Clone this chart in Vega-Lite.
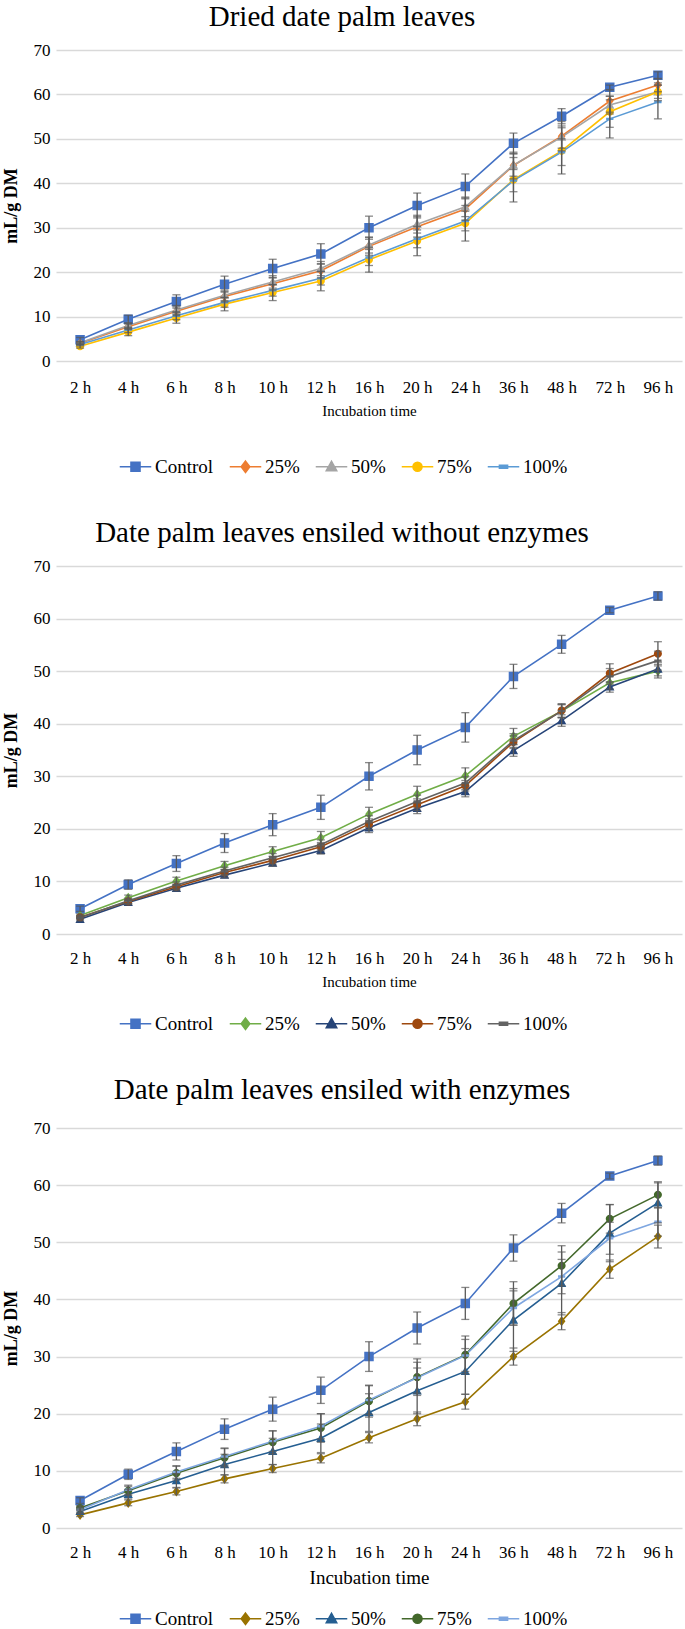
{
  "$schema": "https://vega.github.io/schema/vega-lite/v6.json",
  "padding": {"left": 2, "top": 3, "right": 1, "bottom": 0},
  "background": "white",
  "spacing": 42,
  "datasets": {
    "p1": [
      {"time":"2 h","series":"Control","value":4.8,"err":0.5},{"time":"4 h","series":"Control","value":9.4,"err":0.9},{"time":"6 h","series":"Control","value":13.4,"err":1.5},{"time":"8 h","series":"Control","value":17.3,"err":1.8},{"time":"10 h","series":"Control","value":20.8,"err":2.1},{"time":"12 h","series":"Control","value":24.1,"err":2.3},{"time":"16 h","series":"Control","value":30.0,"err":2.6},{"time":"20 h","series":"Control","value":35.0,"err":2.8},{"time":"24 h","series":"Control","value":39.3,"err":2.8},{"time":"36 h","series":"Control","value":49.0,"err":2.3},{"time":"48 h","series":"Control","value":55.1,"err":1.7},{"time":"72 h","series":"Control","value":61.6,"err":0.5},{"time":"96 h","series":"Control","value":64.3,"err":0.8},
      {"time":"2 h","series":"25%","value":4.0,"err":0.3},{"time":"4 h","series":"25%","value":7.7,"err":0.6},{"time":"6 h","series":"25%","value":11.2,"err":1.0},{"time":"8 h","series":"25%","value":14.5,"err":1.2},{"time":"10 h","series":"25%","value":17.4,"err":1.4},{"time":"12 h","series":"25%","value":20.3,"err":1.6},{"time":"16 h","series":"25%","value":25.8,"err":2.0},{"time":"20 h","series":"25%","value":30.2,"err":2.3},{"time":"24 h","series":"25%","value":34.2,"err":2.5},{"time":"36 h","series":"25%","value":44.0,"err":3.0},{"time":"48 h","series":"25%","value":50.6,"err":3.3},{"time":"72 h","series":"25%","value":58.5,"err":2.5},{"time":"96 h","series":"25%","value":62.1,"err":1.5},
      {"time":"2 h","series":"50%","value":4.1,"err":0.3},{"time":"4 h","series":"50%","value":8.0,"err":0.6},{"time":"6 h","series":"50%","value":11.5,"err":1.0},{"time":"8 h","series":"50%","value":14.8,"err":1.2},{"time":"10 h","series":"50%","value":17.8,"err":1.4},{"time":"12 h","series":"50%","value":20.8,"err":1.6},{"time":"16 h","series":"50%","value":26.1,"err":1.8},{"time":"20 h","series":"50%","value":30.8,"err":2.0},{"time":"24 h","series":"50%","value":34.7,"err":2.2},{"time":"36 h","series":"50%","value":44.1,"err":2.5},{"time":"48 h","series":"50%","value":50.4,"err":2.5},{"time":"72 h","series":"50%","value":57.6,"err":2.0},{"time":"96 h","series":"50%","value":60.6,"err":1.5},
      {"time":"2 h","series":"75%","value":3.3,"err":0.4},{"time":"4 h","series":"75%","value":6.5,"err":0.8},{"time":"6 h","series":"75%","value":9.7,"err":1.2},{"time":"8 h","series":"75%","value":12.8,"err":1.5},{"time":"10 h","series":"75%","value":15.4,"err":1.8},{"time":"12 h","series":"75%","value":18.0,"err":2.2},{"time":"16 h","series":"75%","value":22.8,"err":2.8},{"time":"20 h","series":"75%","value":27.0,"err":3.3},{"time":"24 h","series":"75%","value":31.0,"err":4.0},{"time":"36 h","series":"75%","value":40.8,"err":5.0},{"time":"48 h","series":"75%","value":47.3,"err":5.2},{"time":"72 h","series":"75%","value":56.1,"err":3.5},{"time":"96 h","series":"75%","value":60.6,"err":2.0},
      {"time":"2 h","series":"100%","value":3.7,"err":0.3},{"time":"4 h","series":"100%","value":7.0,"err":0.6},{"time":"6 h","series":"100%","value":10.2,"err":0.9},{"time":"8 h","series":"100%","value":13.2,"err":1.1},{"time":"10 h","series":"100%","value":15.9,"err":1.3},{"time":"12 h","series":"100%","value":18.6,"err":1.5},{"time":"16 h","series":"100%","value":23.3,"err":1.8},{"time":"20 h","series":"100%","value":27.5,"err":2.0},{"time":"24 h","series":"100%","value":31.5,"err":2.2},{"time":"36 h","series":"100%","value":40.6,"err":2.5},{"time":"48 h","series":"100%","value":47.0,"err":3.0},{"time":"72 h","series":"100%","value":54.5,"err":4.3},{"time":"96 h","series":"100%","value":58.3,"err":3.8}
    ],
    "p2": [
      {"time":"2 h","series":"Control","value":4.8,"err":0.5},{"time":"4 h","series":"Control","value":9.4,"err":0.9},{"time":"6 h","series":"Control","value":13.4,"err":1.5},{"time":"8 h","series":"Control","value":17.3,"err":1.8},{"time":"10 h","series":"Control","value":20.8,"err":2.1},{"time":"12 h","series":"Control","value":24.1,"err":2.3},{"time":"16 h","series":"Control","value":30.0,"err":2.6},{"time":"20 h","series":"Control","value":35.0,"err":2.8},{"time":"24 h","series":"Control","value":39.3,"err":2.8},{"time":"36 h","series":"Control","value":49.0,"err":2.3},{"time":"48 h","series":"Control","value":55.1,"err":1.7},{"time":"72 h","series":"Control","value":61.6,"err":0.5},{"time":"96 h","series":"Control","value":64.3,"err":0.8},
      {"time":"2 h","series":"25%","value":3.5,"err":0.3},{"time":"4 h","series":"25%","value":6.9,"err":0.5},{"time":"6 h","series":"25%","value":10.1,"err":0.7},{"time":"8 h","series":"25%","value":13.0,"err":0.8},{"time":"10 h","series":"25%","value":15.7,"err":0.9},{"time":"12 h","series":"25%","value":18.3,"err":1.2},{"time":"16 h","series":"25%","value":22.8,"err":1.3},{"time":"20 h","series":"25%","value":26.6,"err":1.5},{"time":"24 h","series":"25%","value":30.1,"err":1.5},{"time":"36 h","series":"25%","value":37.6,"err":1.5},{"time":"48 h","series":"25%","value":42.4,"err":1.2},{"time":"72 h","series":"25%","value":47.8,"err":1.2},{"time":"96 h","series":"25%","value":50.0,"err":1.3},
      {"time":"2 h","series":"50%","value":2.8,"err":0.3},{"time":"4 h","series":"50%","value":6.0,"err":0.4},{"time":"6 h","series":"50%","value":8.7,"err":0.5},{"time":"8 h","series":"50%","value":11.2,"err":0.5},{"time":"10 h","series":"50%","value":13.5,"err":0.6},{"time":"12 h","series":"50%","value":15.9,"err":0.7},{"time":"16 h","series":"50%","value":20.2,"err":0.9},{"time":"20 h","series":"50%","value":23.9,"err":1.0},{"time":"24 h","series":"50%","value":27.1,"err":1.0},{"time":"36 h","series":"50%","value":34.9,"err":1.1},{"time":"48 h","series":"50%","value":40.6,"err":1.1},{"time":"72 h","series":"50%","value":47.0,"err":1.0},{"time":"96 h","series":"50%","value":50.4,"err":1.3},
      {"time":"2 h","series":"75%","value":3.2,"err":0.3},{"time":"4 h","series":"75%","value":6.2,"err":0.4},{"time":"6 h","series":"75%","value":9.0,"err":0.5},{"time":"8 h","series":"75%","value":11.7,"err":0.6},{"time":"10 h","series":"75%","value":14.0,"err":0.7},{"time":"12 h","series":"75%","value":16.6,"err":0.8},{"time":"16 h","series":"75%","value":20.9,"err":1.0},{"time":"20 h","series":"75%","value":24.6,"err":1.1},{"time":"24 h","series":"75%","value":28.2,"err":1.0},{"time":"36 h","series":"75%","value":36.5,"err":1.2},{"time":"48 h","series":"75%","value":42.5,"err":1.3},{"time":"72 h","series":"75%","value":49.6,"err":1.8},{"time":"96 h","series":"75%","value":53.3,"err":2.3},
      {"time":"2 h","series":"100%","value":3.1,"err":0.3},{"time":"4 h","series":"100%","value":6.3,"err":0.5},{"time":"6 h","series":"100%","value":9.3,"err":0.6},{"time":"8 h","series":"100%","value":12.0,"err":0.7},{"time":"10 h","series":"100%","value":14.5,"err":0.8},{"time":"12 h","series":"100%","value":17.0,"err":0.9},{"time":"16 h","series":"100%","value":21.4,"err":1.1},{"time":"20 h","series":"100%","value":25.2,"err":1.2},{"time":"24 h","series":"100%","value":28.7,"err":1.2},{"time":"36 h","series":"100%","value":36.8,"err":1.3},{"time":"48 h","series":"100%","value":42.4,"err":1.3},{"time":"72 h","series":"100%","value":49.0,"err":1.5},{"time":"96 h","series":"100%","value":52.0,"err":1.8}
    ],
    "p3": [
      {"time":"2 h","series":"Control","value":4.8,"err":0.5},{"time":"4 h","series":"Control","value":9.4,"err":0.9},{"time":"6 h","series":"Control","value":13.4,"err":1.5},{"time":"8 h","series":"Control","value":17.3,"err":1.8},{"time":"10 h","series":"Control","value":20.8,"err":2.1},{"time":"12 h","series":"Control","value":24.1,"err":2.3},{"time":"16 h","series":"Control","value":30.0,"err":2.6},{"time":"20 h","series":"Control","value":35.0,"err":2.8},{"time":"24 h","series":"Control","value":39.3,"err":2.8},{"time":"36 h","series":"Control","value":49.0,"err":2.3},{"time":"48 h","series":"Control","value":55.1,"err":1.7},{"time":"72 h","series":"Control","value":61.6,"err":0.5},{"time":"96 h","series":"Control","value":64.3,"err":0.8},
      {"time":"2 h","series":"25%","value":2.3,"err":0.3},{"time":"4 h","series":"25%","value":4.4,"err":0.5},{"time":"6 h","series":"25%","value":6.4,"err":0.6},{"time":"8 h","series":"25%","value":8.6,"err":0.7},{"time":"10 h","series":"25%","value":10.4,"err":0.7},{"time":"12 h","series":"25%","value":12.2,"err":0.8},{"time":"16 h","series":"25%","value":15.8,"err":0.9},{"time":"20 h","series":"25%","value":19.1,"err":1.2},{"time":"24 h","series":"25%","value":22.1,"err":1.3},{"time":"36 h","series":"25%","value":30.0,"err":1.5},{"time":"48 h","series":"25%","value":36.2,"err":1.5},{"time":"72 h","series":"25%","value":45.3,"err":1.6},{"time":"96 h","series":"25%","value":51.0,"err":2.0},
      {"time":"2 h","series":"50%","value":2.9,"err":0.4},{"time":"4 h","series":"50%","value":5.9,"err":0.8},{"time":"6 h","series":"50%","value":8.3,"err":1.2},{"time":"8 h","series":"50%","value":11.1,"err":1.8},{"time":"10 h","series":"50%","value":13.4,"err":2.3},{"time":"12 h","series":"50%","value":15.7,"err":2.5},{"time":"16 h","series":"50%","value":20.2,"err":3.3},{"time":"20 h","series":"50%","value":24.0,"err":4.0},{"time":"24 h","series":"50%","value":27.4,"err":4.0},{"time":"36 h","series":"50%","value":36.4,"err":5.5},{"time":"48 h","series":"50%","value":42.8,"err":5.5},{"time":"72 h","series":"50%","value":51.6,"err":5.0},{"time":"96 h","series":"50%","value":56.9,"err":3.5},
      {"time":"2 h","series":"75%","value":3.5,"err":0.4},{"time":"4 h","series":"75%","value":6.5,"err":0.8},{"time":"6 h","series":"75%","value":9.6,"err":1.2},{"time":"8 h","series":"75%","value":12.3,"err":1.6},{"time":"10 h","series":"75%","value":15.0,"err":2.0},{"time":"12 h","series":"75%","value":17.5,"err":2.5},{"time":"16 h","series":"75%","value":22.2,"err":2.8},{"time":"20 h","series":"75%","value":26.4,"err":3.2},{"time":"24 h","series":"75%","value":30.3,"err":3.3},{"time":"36 h","series":"75%","value":39.3,"err":3.8},{"time":"48 h","series":"75%","value":45.9,"err":3.5},{"time":"72 h","series":"75%","value":54.1,"err":2.5},{"time":"96 h","series":"75%","value":58.3,"err":2.3},
      {"time":"2 h","series":"100%","value":3.2,"err":0.4},{"time":"4 h","series":"100%","value":6.7,"err":0.8},{"time":"6 h","series":"100%","value":9.8,"err":1.1},{"time":"8 h","series":"100%","value":12.5,"err":1.5},{"time":"10 h","series":"100%","value":15.2,"err":1.8},{"time":"12 h","series":"100%","value":17.8,"err":2.2},{"time":"16 h","series":"100%","value":22.4,"err":2.5},{"time":"20 h","series":"100%","value":26.3,"err":2.7},{"time":"24 h","series":"100%","value":30.2,"err":2.8},{"time":"36 h","series":"100%","value":38.5,"err":3.0},{"time":"48 h","series":"100%","value":44.0,"err":3.0},{"time":"72 h","series":"100%","value":50.7,"err":2.8},{"time":"96 h","series":"100%","value":53.6,"err":2.5}
    ]
  },
  "resolve": {
    "scale": {"color": "independent", "shape": "independent", "size": "independent", "x": "independent", "y": "independent"},
    "legend": {"color": "independent", "shape": "independent"},
    "axis": {"x": "independent", "y": "independent"}
  },
  "vconcat": [
    {
      "width": 626, "height": 311,
      "data": {"name": "p1"},
      "title": {"text": "Dried date palm leaves", "offset": 9},
      "encoding": {
        "x": {"field": "time", "type": "ordinal", "sort": null, "scale": {"type": "point", "padding": 0.5, "domain": ["2 h","4 h","6 h","8 h","10 h","12 h","16 h","20 h","24 h","36 h","48 h","72 h","96 h"]}, "axis": {"title": "Incubation time", "titleFontSize": 15, "labelPadding": 18}},
        "y": {"field": "value", "type": "quantitative", "scale": {"domain": [0, 70]}, "axis": {"title": "mL/g DM", "titleFontSize": 18, "values": [0,10,20,30,40,50,60,70]}}
      },
      "layer": [
        {
          "mark": {"type": "line", "strokeWidth": 1.6},
          "encoding": {
            "color": {"field": "series", "type": "nominal", "scale": {"domain": ["Control","25%","50%","75%","100%"], "range": ["#4472C4","#ED7D31","#A5A5A5","#FFC000","#5B9BD5"]}, "legend": {"orient": "none", "legendX": 59, "legendY": 407}}
          }
        },
        {
          "mark": {"type": "point", "filled": true, "opacity": 1},
          "encoding": {
            "color": {"field": "series", "type": "nominal", "scale": {"domain": ["Control","25%","50%","75%","100%"], "range": ["#4472C4","#ED7D31","#A5A5A5","#FFC000","#5B9BD5"]}, "legend": null},
            "shape": {"field": "series", "type": "nominal", "scale": {"domain": ["Control","25%","50%","75%","100%"], "range": ["M-3.5,0H3.5M-1,-1H1V1H-1Z","M-3.5,0H3.5M0,-1.25L0.95,0L0,1.25L-0.95,0Z","M-3.5,0H3.5M0,-1.2L1.15,0.9H-1.15Z","M-3.5,0H3.5M-1,0A1,1 0 1,0 1,0A1,1 0 1,0 -1,0Z","M-3.5,0H3.5M-0.9,-0.3H0.9V0.3H-0.9Z"]}, "legend": null},
            "size": {"condition": {"test": "datum.series === 'Control'", "value": 90}, "value": 65}
          }
        },
        {
          "mark": {"type": "errorbar", "ticks": true, "size": 8, "thickness": 1.3, "color": "#595959"},
          "encoding": {"yError": {"field": "err"}}
        }
      ]
    },
    {
      "width": 626, "height": 368,
      "data": {"name": "p2"},
      "title": {"text": "Date palm leaves ensiled without enzymes", "offset": 9},
      "encoding": {
        "x": {"field": "time", "type": "ordinal", "sort": null, "scale": {"type": "point", "padding": 0.5, "domain": ["2 h","4 h","6 h","8 h","10 h","12 h","16 h","20 h","24 h","36 h","48 h","72 h","96 h"]}, "axis": {"title": "Incubation time", "titleFontSize": 15}},
        "y": {"field": "value", "type": "quantitative", "scale": {"domain": [0, 70]}, "axis": {"title": "mL/g DM", "titleFontSize": 18, "values": [0,10,20,30,40,50,60,70]}}
      },
      "layer": [
        {
          "mark": {"type": "line", "strokeWidth": 1.6},
          "encoding": {
            "color": {"field": "series", "type": "nominal", "scale": {"domain": ["Control","25%","50%","75%","100%"], "range": ["#4472C4","#70AD47","#264478","#9E480E","#636363"]}, "legend": {"orient": "none", "legendX": 59, "legendY": 448}}
          }
        },
        {
          "mark": {"type": "point", "filled": true, "opacity": 1},
          "encoding": {
            "color": {"field": "series", "type": "nominal", "scale": {"domain": ["Control","25%","50%","75%","100%"], "range": ["#4472C4","#70AD47","#264478","#9E480E","#636363"]}, "legend": null},
            "shape": {"field": "series", "type": "nominal", "scale": {"domain": ["Control","25%","50%","75%","100%"], "range": ["M-3.5,0H3.5M-1,-1H1V1H-1Z","M-3.5,0H3.5M0,-1.25L0.95,0L0,1.25L-0.95,0Z","M-3.5,0H3.5M0,-1.2L1.15,0.9H-1.15Z","M-3.5,0H3.5M-1,0A1,1 0 1,0 1,0A1,1 0 1,0 -1,0Z","M-3.5,0H3.5M-0.9,-0.3H0.9V0.3H-0.9Z"]}, "legend": null},
            "size": {"condition": {"test": "datum.series === 'Control'", "value": 90}, "value": 65}
          }
        },
        {
          "mark": {"type": "errorbar", "ticks": true, "size": 8, "thickness": 1.3, "color": "#595959"},
          "encoding": {"yError": {"field": "err"}}
        }
      ]
    },
    {
      "width": 626, "height": 400,
      "data": {"name": "p3"},
      "title": {"text": "Date palm leaves ensiled with enzymes", "offset": 14},
      "encoding": {
        "x": {"field": "time", "type": "ordinal", "sort": null, "scale": {"type": "point", "padding": 0.5, "domain": ["2 h","4 h","6 h","8 h","10 h","12 h","16 h","20 h","24 h","36 h","48 h","72 h","96 h"]}, "axis": {"title": "Incubation time", "titleFontSize": 19}},
        "y": {"field": "value", "type": "quantitative", "scale": {"domain": [0, 70]}, "axis": {"title": "mL/g DM", "titleFontSize": 18, "values": [0,10,20,30,40,50,60,70]}}
      },
      "layer": [
        {
          "mark": {"type": "line", "strokeWidth": 1.6},
          "encoding": {
            "color": {"field": "series", "type": "nominal", "scale": {"domain": ["Control","25%","50%","75%","100%"], "range": ["#4472C4","#997300","#255E91","#43682B","#7EA6E0"]}, "legend": {"orient": "none", "legendX": 59, "legendY": 481}}
          }
        },
        {
          "mark": {"type": "point", "filled": true, "opacity": 1},
          "encoding": {
            "color": {"field": "series", "type": "nominal", "scale": {"domain": ["Control","25%","50%","75%","100%"], "range": ["#4472C4","#997300","#255E91","#43682B","#7EA6E0"]}, "legend": null},
            "shape": {"field": "series", "type": "nominal", "scale": {"domain": ["Control","25%","50%","75%","100%"], "range": ["M-3.5,0H3.5M-1,-1H1V1H-1Z","M-3.5,0H3.5M0,-1.25L0.95,0L0,1.25L-0.95,0Z","M-3.5,0H3.5M0,-1.2L1.15,0.9H-1.15Z","M-3.5,0H3.5M-1,0A1,1 0 1,0 1,0A1,1 0 1,0 -1,0Z","M-3.5,0H3.5M-0.9,-0.3H0.9V0.3H-0.9Z"]}, "legend": null},
            "size": {"condition": {"test": "datum.series === 'Control'", "value": 90}, "value": 65}
          }
        },
        {
          "mark": {"type": "errorbar", "ticks": true, "size": 8, "thickness": 1.3, "color": "#595959"},
          "encoding": {"yError": {"field": "err"}}
        }
      ]
    }
  ],
  "config": {
    "view": {"stroke": null},
    "font": "Liberation Serif",
    "title": {"font": "Liberation Serif", "fontSize": 29, "fontWeight": "normal", "color": "#000000", "anchor": "middle", "frame": "bounds"},
    "axis": {"labelFont": "Liberation Serif", "labelColor": "#000000", "labelFontSize": 17, "titleFont": "Liberation Serif", "titleColor": "#000000", "titleFontWeight": "normal", "domain": false, "ticks": false},
    "axisX": {"grid": false, "labelAngle": 0, "labelPadding": 16, "titlePadding": 8},
    "axisY": {"grid": true, "gridColor": "#d9d9d9", "gridWidth": 1.3, "labelPadding": 6, "titleFontWeight": "bold", "titlePadding": 13},
    "legend": {"direction": "horizontal", "symbolSize": 81, "symbolOffset": 11, "symbolStrokeWidth": 1.6, "labelFont": "Liberation Serif", "labelFontSize": 19, "labelColor": "#000000", "labelOffset": 10, "columnPadding": 11, "title": null}
  }
}
